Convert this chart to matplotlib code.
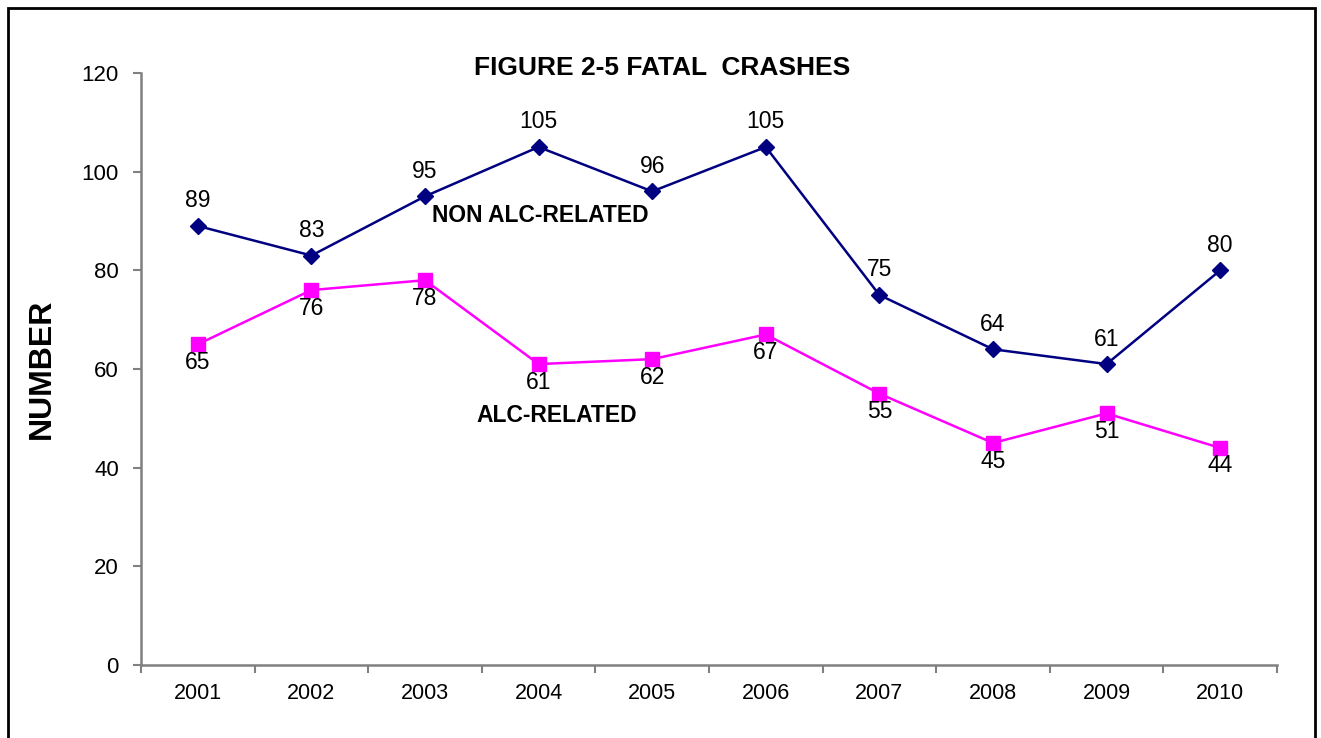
import matplotlib
matplotlib.use("Agg")
import matplotlib.pyplot as plt
import numpy as np
from matplotlib.patches import Rectangle

plt.rcParams['font.family'] = ['Liberation Sans', 'DejaVu Sans']

years = ['2001', '2002', '2003', '2004', '2005', '2006', '2007', '2008', '2009', '2010']
non_alc = [89, 83, 95, 105, 96, 105, 75, 64, 61, 80]
alc = [65, 76, 78, 61, 62, 67, 55, 45, 51, 44]
yticks = [0, 20, 40, 60, 80, 100, 120]

fig = plt.figure(figsize=(13.21, 7.38), dpi=100)
ax = fig.add_axes([141/1321, 1-665/738, (1277-141)/1321, (665-73)/738])

x = np.arange(len(years))
ax.plot(x, non_alc, color='#000080', marker='D', markersize=8.5, lw=1.8)
ax.plot(x, alc, color='#FF00FF', marker='s', markersize=9.5, lw=1.8)

for xi, v in zip(x, non_alc):
    ax.annotate(str(v), (xi, v), xytext=(0, 18), textcoords='offset points',
                ha='center', va='center', fontsize=16.5)
for xi, v in zip(x, alc):
    ax.annotate(str(v), (xi, v), xytext=(0, -13), textcoords='offset points',
                ha='center', va='center', fontsize=16.5)

ax.set_xlim(-0.5, len(years)-0.5)
ax.set_ylim(0, 120)
ax.set_yticks(yticks)
ax.set_xticks(np.arange(-0.5, len(years), 1.0))
ax.set_xticklabels([])
ax.set_xticks(x, minor=True)
ax.set_xticklabels(years, minor=True)
ax.tick_params(axis='x', which='major', direction='out', length=6, width=1.5, color='#808080')
ax.tick_params(axis='x', which='minor', length=0, pad=13, labelsize=15.5)
ax.tick_params(axis='y', direction='out', length=6, width=1.5, color='#808080', labelsize=16, pad=10)

for s in ['top', 'right']:
    ax.spines[s].set_visible(False)
for s in ['left', 'bottom']:
    ax.spines[s].set_color('#808080')
    ax.spines[s].set_linewidth(1.8)

ax.set_ylabel('NUMBER', fontsize=23, fontweight='bold')
ax.yaxis.set_label_coords(-84/1136, 0.5)

fig.text(662/1321, 1-68/738, 'FIGURE 2-5 FATAL  CRASHES', ha='center', va='center',
         fontsize=19, fontweight='bold')
fig.text(540/1321, 1-216/738, 'NON ALC-RELATED', ha='center', va='center', fontsize=16.5, fontweight='bold')
fig.text(557/1321, 1-415/738, 'ALC-RELATED', ha='center', va='center', fontsize=16.5, fontweight='bold')

fig.patches.append(Rectangle((8/1321, -0.05), (1315-8)/1321, 1-8/738+0.05,
                             transform=fig.transFigure, fill=False, ec='black', lw=2, figure=fig))

fig.savefig('out.png', dpi=100, facecolor='white')
